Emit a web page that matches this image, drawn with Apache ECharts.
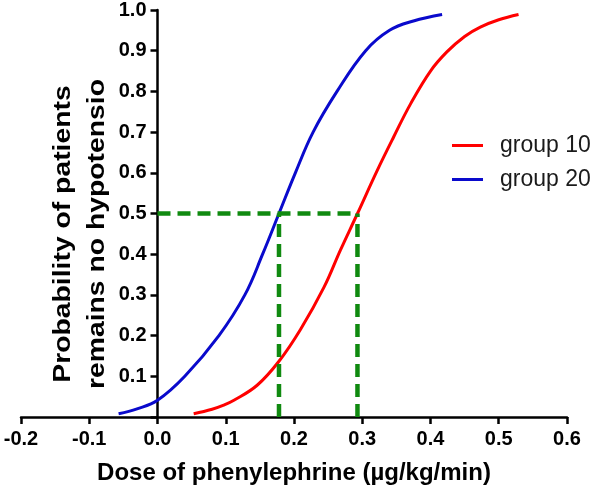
<!DOCTYPE html>
<html><head><meta charset="utf-8">
<script src="https://cdn.jsdelivr.net/npm/echarts@6/dist/echarts.min.js"></script>
<style>html,body{margin:0;padding:0;background:#fff}#c{width:595px;height:490px}</style>
</head><body><div id="c"></div>
<script>
// Dose (µg/kg/min) and probability
const group10Dose = [0.053, 0.080, 0.097, 0.112, 0.146, 0.178, 0.2095, 0.244, 0.268, 0.293, 0.322, 0.346, 0.371, 0.400, 0.424, 0.450, 0.473, 0.500, 0.529];
const group10Prob = [0.008, 0.019, 0.029, 0.041, 0.078, 0.137, 0.215, 0.319, 0.410, 0.500, 0.606, 0.688, 0.770, 0.850, 0.897, 0.935, 0.958, 0.976, 0.989];
const group20Dose = [-0.057, -0.030, 0.000, 0.040, 0.090, 0.128, 0.154, 0.178, 0.202, 0.228, 0.263, 0.305, 0.340, 0.375, 0.417];
const group20Prob = [0.008, 0.020, 0.041, 0.100, 0.200, 0.300, 0.400, 0.500, 0.600, 0.700, 0.800, 0.900, 0.950, 0.973, 0.989];
const seriesNames = ['group 10', 'group 20'];
const ed50Dose = [0.293, 0.178]; // dose at probability 0.5 for group 10, group 20
const ed50Prob = 0.5;
const xTickMin = -0.2, xTickMax = 0.6, xTickStep = 0.1;
const yTickMin = 0, yTickMax = 1.0, yTickStep = 0.1;
const xTitle = 'Dose of phenylephrine (µg/kg/min)';
const yTitle = 'Probability of patients\nremains no hypotensio';

const FONT = 'Arial, "Liberation Sans", sans-serif';
const zip = (xs, ys) => xs.map((x, i) => [x, ys[i]]);
const green = '#108a10';
const dash = { color: green, width: 4.5, type: [13, 7] };

const W = 595, GL = 21, GR = 28;
// y axis sits at dose 0 inside the x range
const yAxisOffset = -((0 - xTickMin) / (xTickMax - xTickMin)) * (W - GL - GR);

const chart = echarts.init(document.getElementById('c'), null, { renderer: 'canvas' });
chart.setOption({
  animation: false,
  backgroundColor: '#fff',
  grid: { left: GL, right: GR, top: 10, bottom: 73, containLabel: false, outerBoundsMode: 'none' },
  xAxis: {
    type: 'value', min: xTickMin, max: xTickMax, interval: xTickStep,
    name: xTitle, nameLocation: 'middle', nameGap: 44,
    nameTextStyle: { fontFamily: FONT, fontWeight: 'bold', fontSize: 24, color: '#000' },
    axisLine: { onZero: false, lineStyle: { color: '#000', width: 2.5 } },
    axisTick: { show: true, inside: false, length: 7, lineStyle: { color: '#000', width: 2.5 } },
    axisLabel: { margin: 12, fontFamily: FONT, fontWeight: 'bold', fontSize: 20, color: '#000',
      formatter: v => v.toFixed(1) },
    splitLine: { show: false }
  },
  yAxis: {
    type: 'value', min: yTickMin, max: yTickMax, interval: yTickStep, position: 'left', offset: yAxisOffset,
    axisLine: { onZero: false, lineStyle: { color: '#000', width: 2.5 } },
    axisTick: { show: true, inside: false, length: 7, lineStyle: { color: '#000', width: 2.5 } },
    axisLabel: { margin: 11, fontFamily: FONT, fontWeight: 'bold', fontSize: 20, color: '#000',
      formatter: v => (Math.abs(v) < 1e-9 ? '' : v.toFixed(1)) },
    splitLine: { show: false }
  },
  legend: {
    data: seriesNames, orient: 'vertical', left: 452, top: 134, padding: 0, icon: 'rect',
    itemWidth: 31, itemHeight: 3, itemGap: 11, selectedMode: false,
    textStyle: { fontFamily: FONT, fontSize: 23, color: '#1a1a1a', lineHeight: 22, padding: [0, 0, 0, 12] }
  },
  graphic: [{
    type: 'text', x: 80, y: 234, rotation: Math.PI / 2, scaleX: 1.18,
    style: { text: yTitle, font: 'bold 24px ' + FONT, fill: '#000', align: 'center', verticalAlign: 'middle', lineHeight: 34 }
  }],
  series: [
    { name: seriesNames[0], type: 'line', data: zip(group10Dose, group10Prob), showSymbol: false, symbol: 'none',
      smooth: 0.4, lineStyle: { color: '#ff0000', width: 3 }, itemStyle: { color: '#ff0000' }, z: 3 },
    { name: seriesNames[1], type: 'line', data: zip(group20Dose, group20Prob), showSymbol: false, symbol: 'none',
      smooth: 0.4, lineStyle: { color: '#0a0acc', width: 3 }, itemStyle: { color: '#0a0acc' }, z: 3 },
    { name: 'ed50-h', type: 'line', data: [[0, ed50Prob], [ed50Dose[0], ed50Prob]], symbol: 'none', lineStyle: dash, z: 4 },
    { name: 'ed50-v10', type: 'line', data: [[ed50Dose[0], 0], [ed50Dose[0], ed50Prob]], symbol: 'none', lineStyle: dash, z: 4 },
    { name: 'ed50-v20', type: 'line', data: [[ed50Dose[1], 0], [ed50Dose[1], ed50Prob]], symbol: 'none', lineStyle: dash, z: 4 }
  ]
});
</script></body></html>
